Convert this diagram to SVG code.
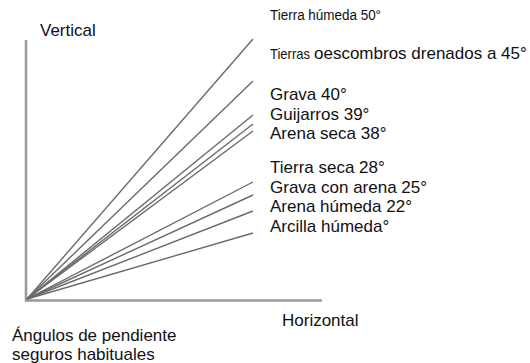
<svg xmlns="http://www.w3.org/2000/svg" width="530" height="363" viewBox="0 0 530 363">
<style>
text{font-family:"Liberation Sans",Arial,sans-serif;font-size:17px;fill:#111}
.ax{stroke:#999;stroke-width:2.5;fill:none}
.ln{stroke:#6a6a6a;stroke-width:1.4;fill:none}
</style>
<rect width="530" height="363" fill="#fff"/>
<g id="axes">
<line class="ax" x1="26" y1="40" x2="26" y2="301.5"/>
<line class="ax" x1="25" y1="300.5" x2="322" y2="300.5"/>
</g>
<g id="connectors">
<line class="ln" x1="27" y1="299" x2="253" y2="39"/>
<line class="ln" x1="27" y1="299" x2="253" y2="81"/>
<line class="ln" x1="27" y1="299" x2="253" y2="115"/>
<line class="ln" x1="27" y1="299" x2="253" y2="124"/>
<line class="ln" x1="27" y1="299" x2="253" y2="131"/>
<line class="ln" x1="27" y1="299" x2="253" y2="182"/>
<line class="ln" x1="27" y1="299" x2="253" y2="195"/>
<line class="ln" x1="27" y1="299" x2="253" y2="211"/>
<line class="ln" x1="27" y1="299" x2="253" y2="233"/>
</g>
<g id="label-vertical"><text x="40" y="36">Vertical</text></g>
<g id="label-horizontal"><text x="282" y="326">Horizontal</text></g>
<g id="label-title"><text x="12" y="341">Ángulos de pendiente</text><text x="12" y="360">seguros habituales</text></g>
<g id="label-50"><text x="270" y="20" style="font-size:14px" textLength="111" lengthAdjust="spacingAndGlyphs">Tierra húmeda 50°</text></g>
<g id="label-45"><text x="270" y="59" style="font-size:15px" textLength="40" lengthAdjust="spacingAndGlyphs">Tierras</text><text x="314" y="59">oescombros drenados a 45°</text></g>
<g id="label-40"><text x="270" y="100">Grava 40°</text></g>
<g id="label-39"><text x="270" y="119.5">Guijarros 39°</text></g>
<g id="label-38"><text x="270" y="139">Arena seca 38°</text></g>
<g id="label-28"><text x="270" y="173">Tierra seca 28°</text></g>
<g id="label-25"><text x="270" y="192.5">Grava con arena 25°</text></g>
<g id="label-22"><text x="270" y="212">Arena húmeda 22°</text></g>
<g id="label-clay"><text x="270" y="231.5">Arcilla húmeda°</text></g>
</svg>
